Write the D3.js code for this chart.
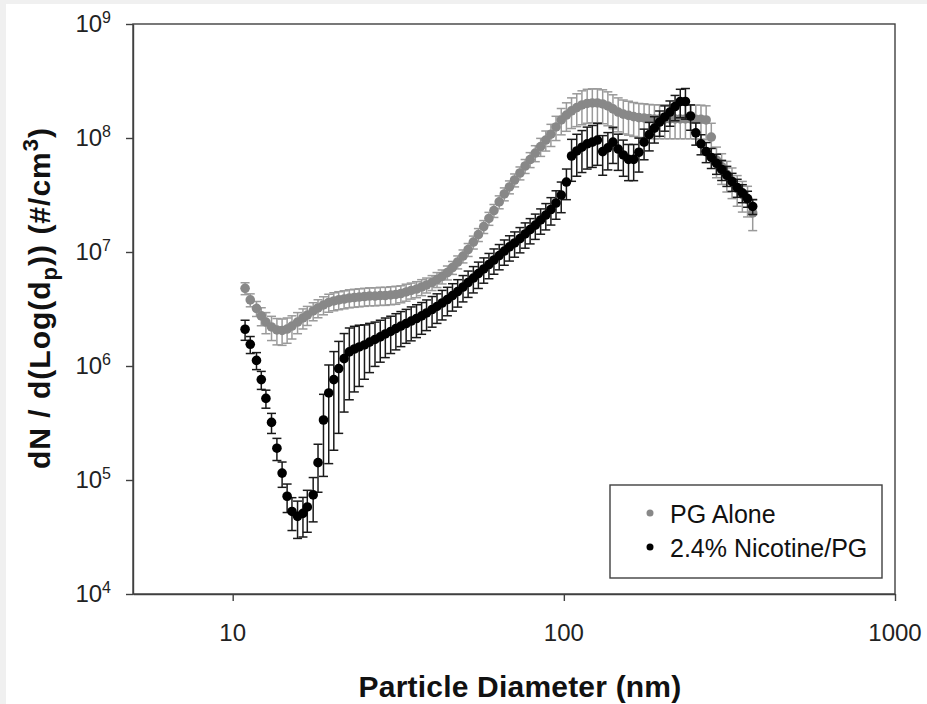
<!DOCTYPE html>
<html>
<head>
<meta charset="utf-8">
<script src="https://cdn.jsdelivr.net/npm/d3@7"></script>
<style>
  html, body { margin: 0; padding: 0; background: #f0f0f0; }
  svg { display: block; font-family: "Liberation Sans", Arial, sans-serif; }
</style>
</head>
<body>
<div id="chart"></div>
<script>
// SMPS channel mid-point diameters (nm)
const diameters = [
  10.9, 11.3, 11.8, 12.2, 12.6, 13.1, 13.6, 14.1, 14.6, 15.1,
  15.7, 16.3, 16.8, 17.5, 18.1, 18.8, 19.5, 20.2, 20.9, 21.7,
  22.5, 23.3, 24.1, 25.0, 25.9, 26.9, 27.9, 28.9, 30.0, 31.1,
  32.2, 33.4, 34.6, 35.9, 37.2, 38.5, 40.0, 41.4, 42.9, 44.5,
  46.1, 47.8, 49.6, 51.4, 53.3, 55.2, 57.3, 59.4, 61.5, 63.8,
  66.1, 68.5, 71.0, 73.7, 76.4, 79.1, 82.0, 85.1, 88.2, 91.4,
  94.7, 98.2, 101.8, 105.5, 109.4, 113.4, 117.6, 121.9, 126.3, 131.0,
  135.8, 140.7, 145.9, 151.2, 156.8, 162.5, 168.5, 174.7, 181.1, 187.7,
  194.6, 201.7, 209.1, 216.7, 224.7, 232.9, 241.4, 250.3, 259.5, 269.0,
  278.8, 289.0, 299.6, 310.6, 322.0, 333.8, 346.0, 358.7, 371.8
];

// PG alone: dN/dlogDp (#/cm3)
const pgAlone = [
  4.8e6, 3.8e6, 3.2e6, 2.75e6, 2.43e6, 2.2e6, 2.07e6, 2.05e6, 2.11e6, 2.24e6,
  2.43e6, 2.64e6, 2.8e6, 3.04e6, 3.23e6, 3.43e6, 3.61e6, 3.72e6, 3.8e6, 3.87e6,
  3.95e6, 3.99e6, 4.03e6, 4.07e6, 4.11e6, 4.11e6, 4.15e6, 4.15e6, 4.2e6, 4.24e6,
  4.32e6, 4.46e6, 4.6e6, 4.73e6, 4.93e6, 5.14e6, 5.4e6, 5.74e6, 6.1e6, 6.61e6,
  7.31e6, 8.17e6, 9.22e6, 1.05e7, 1.22e7, 1.42e7, 1.67e7, 1.97e7, 2.31e7, 2.75e7,
  3.23e7, 3.72e7, 4.28e7, 4.93e7, 5.68e7, 6.47e7, 7.38e7, 8.41e7, 9.6e7, 1.08e8,
  1.25e8, 1.44e8, 1.59e8, 1.73e8, 1.85e8, 1.95e8, 2.01e8, 2.03e8, 2.03e8, 1.99e8,
  1.91e8, 1.80e8, 1.69e8, 1.62e8, 1.58e8, 1.54e8, 1.51e8, 1.50e8, 1.48e8, 1.47e8,
  1.47e8, 1.47e8, 1.47e8, 1.47e8, 1.47e8, 1.47e8, 1.47e8, 1.46e8, 1.46e8, 1.44e8,
  1.02e8, 6.4e7, 5.6e7, 4.8e7, 4.2e7, 3.6e7, 3.2e7, 2.9e7, 2.2e7
];

// PG alone: relative standard deviation (%)
const pgAloneRsd = [
  12, 13, 15, 18, 21, 24, 26, 26, 25, 23,
  21, 20, 19, 18, 18, 18, 18, 18, 18, 18,
  18, 18, 18, 18, 18, 18, 18, 18, 18, 18,
  17, 17, 16, 16, 16, 15, 15, 15, 14, 14,
  13, 13, 13, 13, 13, 13, 13, 13, 13, 13,
  13, 13, 13, 13, 14, 15, 16, 18, 20, 22,
  24, 26, 28, 30, 32, 33, 33, 33, 33, 33,
  33, 33, 33, 33, 33, 33, 33, 33, 33, 33,
  33, 33, 33, 33, 33, 33, 33, 33, 33, 33,
  32, 30, 30, 30, 30, 30, 30, 30, 30
];

// 2.4% nicotine in PG: dN/dlogDp (#/cm3)
const nicotinePg = [
  2.1e6, 1.55e6, 1.12e6, 7.6e5, 5.2e5, 3.2e5, 1.9e5, 1.15e5, 7.2e4, 5.3e4,
  4.8e4, 5.1e4, 5.8e4, 7.4e4, 1.42e5, 3.36e5, 5.8e5, 7.6e5, 9.5e5, 1.16e6,
  1.33e6, 1.41e6, 1.47e6, 1.53e6, 1.62e6, 1.71e6, 1.80e6, 1.91e6, 2.01e6, 2.13e6,
  2.24e6, 2.36e6, 2.48e6, 2.61e6, 2.75e6, 2.92e6, 3.13e6, 3.33e6, 3.57e6, 3.83e6,
  4.15e6, 4.5e6, 4.93e6, 5.4e6, 5.91e6, 6.47e6, 7.1e6, 7.77e6, 8.51e6, 9.3e6,
  1.02e7, 1.11e7, 1.20e7, 1.31e7, 1.44e7, 1.57e7, 1.72e7, 1.91e7, 2.11e7, 2.36e7,
  2.69e7, 3.16e7, 4.11e7, 6.95e7, 7.7e7, 8.3e7, 8.9e7, 9.2e7, 9.6e7, 7.6e7,
  8.2e7, 9.2e7, 8.0e7, 7.1e7, 6.5e7, 6.5e7, 7.5e7, 9.2e7, 1.07e8, 1.22e8,
  1.38e8, 1.53e8, 1.69e8, 1.89e8, 2.09e8, 2.09e8, 1.56e8, 1.11e8, 8.9e7, 7.6e7,
  6.75e7, 6.0e7, 5.3e7, 4.7e7, 4.15e7, 3.68e7, 3.30e7, 2.94e7, 2.51e7
];

// 2.4% nicotine in PG: relative standard deviation (%)
const nicotinePgRsd = [
  20, 17, 17, 18, 18, 20, 22, 25, 28, 32,
  36, 38, 40, 42, 45, 68, 76, 76, 73, 66,
  62, 58, 55, 50, 46, 42, 40, 38, 36, 35,
  34, 33, 33, 32, 31, 30, 30, 29, 29, 28,
  27, 27, 26, 26, 26, 26, 25, 25, 25, 25,
  25, 25, 25, 25, 25, 25, 25, 25, 26, 27,
  28, 30, 30, 40, 40, 40, 40, 40, 40, 38,
  36, 35, 35, 35, 35, 35, 33, 30, 28, 26,
  25, 25, 25, 25, 28, 30, 25, 22, 20, 20,
  20, 20, 20, 20, 18, 18, 18, 16, 15
];

const xTicks = [10, 100, 1000];
const yTickExponents = [4, 5, 6, 7, 8, 9];

const seriesList = [
  { name: 'PG Alone', values: pgAlone, rsd: pgAloneRsd, fill: '#888888', bar: '#9a9a9a' },
  { name: '2.4% Nicotine/PG', values: nicotinePg, rsd: nicotinePgRsd, fill: '#000000', bar: '#1a1a1a' }
];

const width = 927;
const height = 704;
const margin = { top: 24, right: 32, bottom: 110, left: 133 };
const axisColor = '#404040';

const svg = d3.select('#chart')
  .append('svg')
  .attr('width', width)
  .attr('height', height);

// White page with the thin grey strip of the screenshot at left/top
svg.append('rect')
  .attr('x', 6).attr('y', 4)
  .attr('width', width - 6).attr('height', height - 4)
  .attr('fill', '#ffffff');

// Scales
const x = d3.scaleLog()
  .domain([5, 1000])
  .range([margin.left, width - margin.right]);

const y = d3.scaleLog()
  .domain([1e4, 1e9])
  .range([height - margin.bottom, margin.top]);

// Axes (tick marks only, labels are written by hand for the superscripts)
const xAxis = d3.axisBottom(x)
  .tickValues(xTicks)
  .tickSize(7)
  .tickSizeOuter(0)
  .tickFormat('');

const yAxis = d3.axisLeft(y)
  .tickValues(yTickExponents.map(e => Math.pow(10, e)))
  .tickSize(7)
  .tickSizeOuter(0)
  .tickFormat('');

const gx = svg.append('g')
  .attr('transform', `translate(0,${height - margin.bottom})`)
  .call(xAxis);

const gy = svg.append('g')
  .attr('transform', `translate(${margin.left},0)`)
  .call(yAxis);

[gx, gy].forEach(g => {
  g.selectAll('path, line')
    .attr('stroke', axisColor)
    .attr('stroke-width', 1.4);
});

// Plot frame
svg.append('rect')
  .attr('x', x.range()[0])
  .attr('y', y.range()[1])
  .attr('width', x.range()[1] - x.range()[0])
  .attr('height', y.range()[0] - y.range()[1])
  .attr('fill', 'none')
  .attr('stroke', axisColor)
  .attr('stroke-width', 1.4);

// X tick labels
svg.append('g')
  .selectAll('text')
  .data(xTicks)
  .join('text')
  .attr('x', d => x(d))
  .attr('y', 641)
  .attr('text-anchor', 'middle')
  .attr('font-size', 24)
  .attr('fill', '#222')
  .text(d => d);

// Y tick labels as 10 with a superscript exponent
const yLabels = svg.append('g')
  .selectAll('text')
  .data(yTickExponents)
  .join('text')
  .attr('x', 111)
  .attr('y', d => y(Math.pow(10, d)) + 8)
  .attr('text-anchor', 'end')
  .attr('font-size', 24)
  .attr('fill', '#222');

yLabels.append('tspan').text('10');
yLabels.append('tspan')
  .attr('dy', -9)
  .attr('font-size', 16)
  .text(d => d);

// Error bars and markers, grey series first so black sits on top
const capHalf = 4.5;

seriesList.forEach(s => {
  const points = diameters.map((d, i) => ({
    d: d,
    v: s.values[i],
    sd: s.values[i] * s.rsd[i] / 100
  }));

  const bars = svg.append('g')
    .attr('stroke', s.bar)
    .attr('stroke-width', 1.5)
    .selectAll('g')
    .data(points)
    .join('g');

  bars.append('line')
    .attr('x1', p => x(p.d))
    .attr('x2', p => x(p.d))
    .attr('y1', p => y(p.v + p.sd))
    .attr('y2', p => y(p.v - p.sd));

  bars.append('line')
    .attr('x1', p => x(p.d) - capHalf)
    .attr('x2', p => x(p.d) + capHalf)
    .attr('y1', p => y(p.v + p.sd))
    .attr('y2', p => y(p.v + p.sd));

  bars.append('line')
    .attr('x1', p => x(p.d) - capHalf)
    .attr('x2', p => x(p.d) + capHalf)
    .attr('y1', p => y(p.v - p.sd))
    .attr('y2', p => y(p.v - p.sd));

  svg.append('g')
    .selectAll('circle')
    .data(points)
    .join('circle')
    .attr('cx', p => x(p.d))
    .attr('cy', p => y(p.v))
    .attr('r', 4.8)
    .attr('fill', s.fill);
});

// Legend
const legend = svg.append('g');

legend.append('rect')
  .attr('x', 610).attr('y', 485)
  .attr('width', 272).attr('height', 93)
  .attr('fill', '#ffffff')
  .attr('stroke', axisColor)
  .attr('stroke-width', 1.4);

const legendRows = legend.selectAll('g')
  .data(seriesList)
  .join('g')
  .attr('transform', (d, i) => `translate(650,${513 + i * 34})`);

legendRows.append('circle')
  .attr('r', 3.5)
  .attr('fill', d => d.fill);

legendRows.append('text')
  .attr('x', 20)
  .attr('y', 10)
  .attr('font-size', 25)
  .attr('fill', '#111')
  .text(d => d.name);

// Axis titles
svg.append('text')
  .attr('x', 520)
  .attr('y', 697)
  .attr('text-anchor', 'middle')
  .attr('font-size', 30)
  .attr('font-weight', 'bold')
  .attr('letter-spacing', 0.2)
  .attr('fill', '#111')
  .text('Particle Diameter (nm)');

const yTitle = svg.append('text')
  .attr('transform', 'translate(50,298) rotate(-90)')
  .attr('text-anchor', 'middle')
  .attr('font-size', 30)
  .attr('font-weight', 'bold')
  .attr('letter-spacing', 1)
  .attr('fill', '#111');

yTitle.append('tspan').text('dN / d(Log(d');
yTitle.append('tspan').attr('dy', 7).attr('font-size', 22).text('p');
yTitle.append('tspan').attr('dy', -7).text(')) (#/cm');
yTitle.append('tspan').attr('dy', -12).attr('font-size', 22).text('3');
yTitle.append('tspan').attr('dy', 12).text(')');
</script>
</body>
</html>
